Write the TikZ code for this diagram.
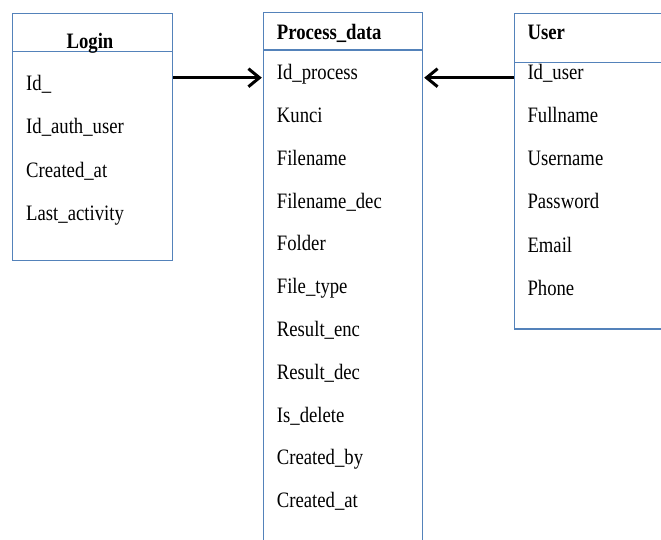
\documentclass[tikz,border=0pt]{standalone}
\usepackage{fontspec}
\usepackage{graphicx}
\setmainfont{Liberation Serif}
\usetikzlibrary{arrows.meta}
\definecolor{boxblue}{RGB}{84,130,186}
\newcommand\sqz[1]{\scalebox{0.85}[1]{#1}}
\begin{document}
\begin{tikzpicture}[x=1pt,y=-1pt,
  box/.style={draw=boxblue,line width=1.3pt,inner sep=0pt,anchor=north west},
  field/.style={anchor=base west,inner sep=0pt,font=\fontsize{22}{24}\selectfont},
  ttl/.style={anchor=base west,inner sep=0pt,font=\fontsize{22}{24}\selectfont\bfseries},
  arr/.style={line width=3pt,-{Straight Barb[length=11pt,width=18pt,line width=3pt]}}]
\useasboundingbox (0,0) rectangle (661,540);
\clip (0,0) rectangle (661,540);
% Login
\node[box,minimum width=160pt,minimum height=247.3pt] (login) at (12,12.7) {};
\draw[boxblue,line width=1.3pt] (login.west |- 0,51.7) -- (login.east |- 0,51.7);
\node[ttl,anchor=base] (logint) at (90,48.3) {\sqz{Login}};
\node[field] (l1) at (26,90.7) {\sqz{Id\_}};
\node[field] (l2) at (26,133.9) {\sqz{Id\_auth\_user}};
\node[field] (l3) at (26,177.1) {\sqz{Created\_at}};
\node[field] (l4) at (26,220.3) {\sqz{Last\_activity}};
% Process_data
\node[inner sep=0pt,minimum width=159pt,minimum height=540pt,anchor=north west] (proc) at (263.3,12.3) {};
\draw[boxblue,line width=1.3pt] (proc.south west) -- (proc.north west) -- (proc.north east) -- (proc.south east);
\draw[boxblue,line width=1.3pt] (proc.west |- 0,50) -- (proc.east |- 0,50);
\node[ttl] (proct) at (276.7,39.3) {\sqz{Process\_data}};
\foreach \t [count=\i from 0] in {Id\_process,Kunci,Filename,Filename\_dec,Folder,File\_type,Result\_enc,Result\_dec,Is\_delete,Created\_by,Created\_at}
  \node[field] (p\i) at (276.7,80+42.75*\i) {\sqz{\t}};
% User
\node[box,minimum width=170pt,minimum height=315.6pt] (user) at (514,12.7) {};
\draw[boxblue,line width=1.3pt] (user.west |- 0,62.7) -- (user.east |- 0,62.7);
\node[ttl] (usert) at (527.3,39.3) {\sqz{User}};
\foreach \t [count=\i from 0] in {Id\_user,Fullname,Username,Password,Email,Phone}
  \node[field] (u\i) at (527.3,80+43*\i) {\sqz{\t}};
% connectors
\coordinate (ay) at (0,77.7);
\draw[arr] (login.east |- ay) -- ([xshift=-1.5pt]proc.west |- ay);
\draw[arr] (user.west |- ay) -- ([xshift=1.5pt]proc.east |- ay);
\end{tikzpicture}
\end{document}
